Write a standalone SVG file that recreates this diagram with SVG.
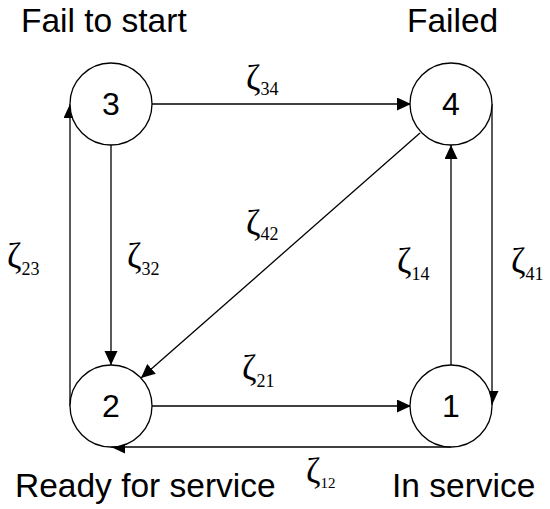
<svg xmlns="http://www.w3.org/2000/svg" width="550" height="509" viewBox="0 0 550 509">
<style>
.node circle{fill:#fff;stroke:#000;stroke-width:1.3}
.num{font-family:"Liberation Sans",Arial,sans-serif;font-size:32px;text-anchor:middle;fill:#000}
.title{font-family:"Liberation Sans",Arial,sans-serif;font-size:33.5px;fill:#000}
.edge{fill:none;stroke:#000;stroke-width:1.3}
.lbl{font-family:"Liberation Serif","Times New Roman",serif;fill:#000}
.z{font-size:35px}
.s{font-size:18px}
</style>
<defs>
<marker id="ah" markerUnits="userSpaceOnUse" markerWidth="15" markerHeight="14" refX="14" refY="6.5" orient="auto">
<path d="M0,0 L14,6.5 L0,13 z" fill="#000"/>
</marker>
</defs>
<g id="connectors">
<path class="edge" d="M152,104 H411" marker-end="url(#ah)"/>
<path class="edge" d="M111,145 V365" marker-end="url(#ah)"/>
<path class="edge" d="M70,406 V104" marker-end="url(#ah)"/>
<path class="edge" d="M492,104 V405" marker-end="url(#ah)"/>
<path class="edge" d="M451,365 V145" marker-end="url(#ah)"/>
<path class="edge" d="M152,406 H411" marker-end="url(#ah)"/>
<path class="edge" d="M451,447 H111" marker-end="url(#ah)"/>
<path class="edge" d="M420,133 L141,378" marker-end="url(#ah)"/>
</g>
<g id="labels">
<text class="lbl" x="246" y="90"><tspan class="z">ζ</tspan><tspan class="s" dy="5">34</tspan></text>
<text class="lbl" x="7" y="268"><tspan class="z">ζ</tspan><tspan class="s" dy="7">23</tspan></text>
<text class="lbl" x="127" y="268"><tspan class="z">ζ</tspan><tspan class="s" dy="7">32</tspan></text>
<text class="lbl" x="246" y="235"><tspan class="z">ζ</tspan><tspan class="s" dy="5">42</tspan></text>
<text class="lbl" x="397" y="273"><tspan class="z">ζ</tspan><tspan class="s" dy="7">14</tspan></text>
<text class="lbl" x="511" y="273"><tspan class="z">ζ</tspan><tspan class="s" dy="7">41</tspan></text>
<text class="lbl" x="242" y="380"><tspan class="z">ζ</tspan><tspan class="s" dy="7">21</tspan></text>
<text class="lbl" x="306" y="483"><tspan class="z">ζ</tspan><tspan class="s" style="font-size:15px" dy="5">12</tspan></text>
</g>
<g id="node3" class="node"><circle cx="111" cy="104" r="41"/><text class="num" x="111" y="115">3</text></g>
<g id="node4" class="node"><circle cx="451" cy="104" r="41"/><text class="num" x="451" y="115">4</text></g>
<g id="node2" class="node"><circle cx="111" cy="406" r="41"/><text class="num" x="111" y="417">2</text></g>
<g id="node1" class="node"><circle cx="451" cy="406" r="41"/><text class="num" x="451" y="417">1</text></g>
<g id="titles">
<text class="title" x="21" y="32">Fail to start</text>
<text class="title" x="407" y="32">Failed</text>
<text class="title" x="15" y="497">Ready for service</text>
<text class="title" x="392" y="497">In service</text>
</g>
</svg>
